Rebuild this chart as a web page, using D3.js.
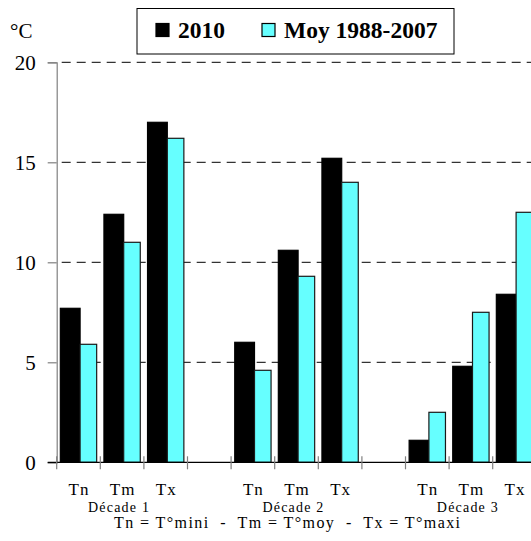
<!DOCTYPE html>
<html>
<head>
<meta charset="utf-8">
<script src="https://cdn.jsdelivr.net/npm/d3@7/dist/d3.min.js"></script>
<style>
  html, body { margin: 0; padding: 0; background: #fff; }
  svg { display: block; }
  text { font-family: "Liberation Serif", "Times New Roman", serif; fill: #000; }
</style>
</head>
<body>
<svg id="chart" width="531" height="541"></svg>
<script>
// ---- data ----
const slots = ["Tn1", "Tm1", "Tx1", "gap1", "Tn2", "Tm2", "Tx2", "gap2", "Tn3", "Tm3", "Tx3"];
const slotLabels = ["Tn", "Tm", "Tx", "", "Tn", "Tm", "Tx", "", "Tn", "Tm", "Tx"];
const categories = ["Tn1", "Tm1", "Tx1", "Tn2", "Tm2", "Tx2", "Tn3", "Tm3", "Tx3"];
const series = ["2010", "Moy 1988-2007"];
const values2010 = [7.7, 12.4, 17.0, 6.0, 10.6, 15.2, 1.1, 4.8, 8.4];
const valuesMoy  = [5.9, 11.0, 16.2, 4.6, 9.3, 14.0, 2.5, 7.5, 12.5];
const decades = ["Décade 1", "Décade 2", "Décade 3"];
const decadeCenters = ["Tm1", "Tm2", "Tm3"];
const yTicks = [0, 5, 10, 15, 20];
const colors = ["#000000", "#66FFFF"];

(function () {
const svg = d3.select("#chart");
const pLeft = 56.7, pRight = 56.7 + 43.6 * 11, pTop = 62.3, pBottom = 462.3;

const x = d3.scaleBand().domain(slots).range([pLeft, pRight]).padding(0);
const inner = d3.scaleBand().domain(series).range([0, x.bandwidth()]).paddingOuter(0.2).paddingInner(0);
const y = d3.scaleLinear().domain([0, 20]).range([pBottom, pTop]);

// gridlines
svg.append("g").selectAll("line").data(yTicks.filter(d => d > 0)).join("line")
  .attr("x1", pLeft).attr("x2", 531)
  .attr("y1", d => y(d)).attr("y2", d => y(d))
  .attr("stroke", "#000").attr("stroke-width", 1)
  .attr("stroke-dasharray", "9,6").attr("stroke-dashoffset", -5);

// bars
const rows = categories.map((c, i) => ({ cat: c, vals: [values2010[i], valuesMoy[i]] }));
const g = svg.append("g");
rows.forEach(r => {
  series.forEach((s, j) => {
    const bx = x(r.cat) + inner(s);
    const adj = 1.6;
    const xx = j === 0 ? bx : bx + adj;
    const w = j === 0 ? inner.bandwidth() + adj : inner.bandwidth() - adj;
    g.append("rect")
      .attr("x", xx).attr("y", y(r.vals[j]))
      .attr("width", w).attr("height", y(0) - y(r.vals[j]))
      .attr("fill", colors[j])
      .attr("stroke", j === 0 ? "#000" : "#1a1a1a").attr("stroke-width", 1.2);
  });
});

// y axis
const yAxis = d3.axisLeft(y).tickValues(yTicks).tickSize(9).tickPadding(12).tickFormat(d3.format("d"));
const ya = svg.append("g").attr("transform", `translate(${pLeft},0)`).call(yAxis);
ya.attr("font-family", null);
ya.select(".domain").attr("stroke", "#808080").attr("stroke-width", 1.2);
ya.selectAll(".tick line").attr("stroke", "#808080").attr("stroke-width", 1.2);
ya.selectAll(".tick text").style("font-family", "Liberation Serif").style("font-size", "21px").attr("fill", "#000");

// x axis baseline
svg.append("line").attr("x1", pLeft - 9).attr("x2", 531).attr("y1", y(0)).attr("y2", y(0))
  .attr("stroke", "#000").attr("stroke-width", 1.3);
// x ticks at slot boundaries
const bounds = slots.map(s => x(s)).concat([pRight]);
svg.append("g").selectAll("line").data(bounds).join("line")
  .attr("x1", d => d).attr("x2", d => d)
  .attr("y1", y(0) - 6).attr("y2", y(0) + 7)
  .attr("stroke", "#808080").attr("stroke-width", 1.2);

// category labels
svg.append("g").selectAll("text").data(slots.filter((s, i) => slotLabels[i] !== "")).join("text")
  .attr("x", d => x(d) + x.bandwidth() / 2 + 0.5)
  .attr("y", 495)
  .attr("text-anchor", "middle")
  .style("font-size", "17px").style("letter-spacing", "1px")
  .text(d => slotLabels[slots.indexOf(d)]);

svg.append("g").selectAll("text").data(decades).join("text")
  .attr("x", (d, i) => x(decadeCenters[i]) + x.bandwidth() / 2 - 3)
  .attr("y", 512)
  .attr("text-anchor", "middle")
  .style("font-size", "14px").style("letter-spacing", "1.2px")
  .text(d => d);

svg.append("text")
  .attr("x", 114).attr("y", 527.5)
  .attr("textLength", 346).attr("lengthAdjust", "spacing")
  .style("font-size", "16px").style("white-space", "pre")
  .text("Tn = T°mini  -  Tm = T°moy  -  Tx = T°maxi");

// unit
svg.append("text").attr("x", 10).attr("y", 38).style("font-size", "21px").text("°C");

// legend
const lg = svg.append("g");
lg.append("rect").attr("x", 137).attr("y", 8.5).attr("width", 317).attr("height", 45.5)
  .attr("fill", "#fff").attr("stroke", "#000").attr("stroke-width", 1);
const legX = [156, 262];
const legTX = [178, 284];
series.forEach((s, j) => {
  lg.append("rect").attr("x", legX[j]).attr("y", 23.5).attr("width", 13).attr("height", 13)
    .attr("fill", colors[j]).attr("stroke", "#000").attr("stroke-width", 1.2);
  lg.append("text").attr("x", legTX[j]).attr("y", 37.5)
    .style("font-size", "23.5px").style("font-weight", "bold").text(s);
});
})();
</script>
</body>
</html>
